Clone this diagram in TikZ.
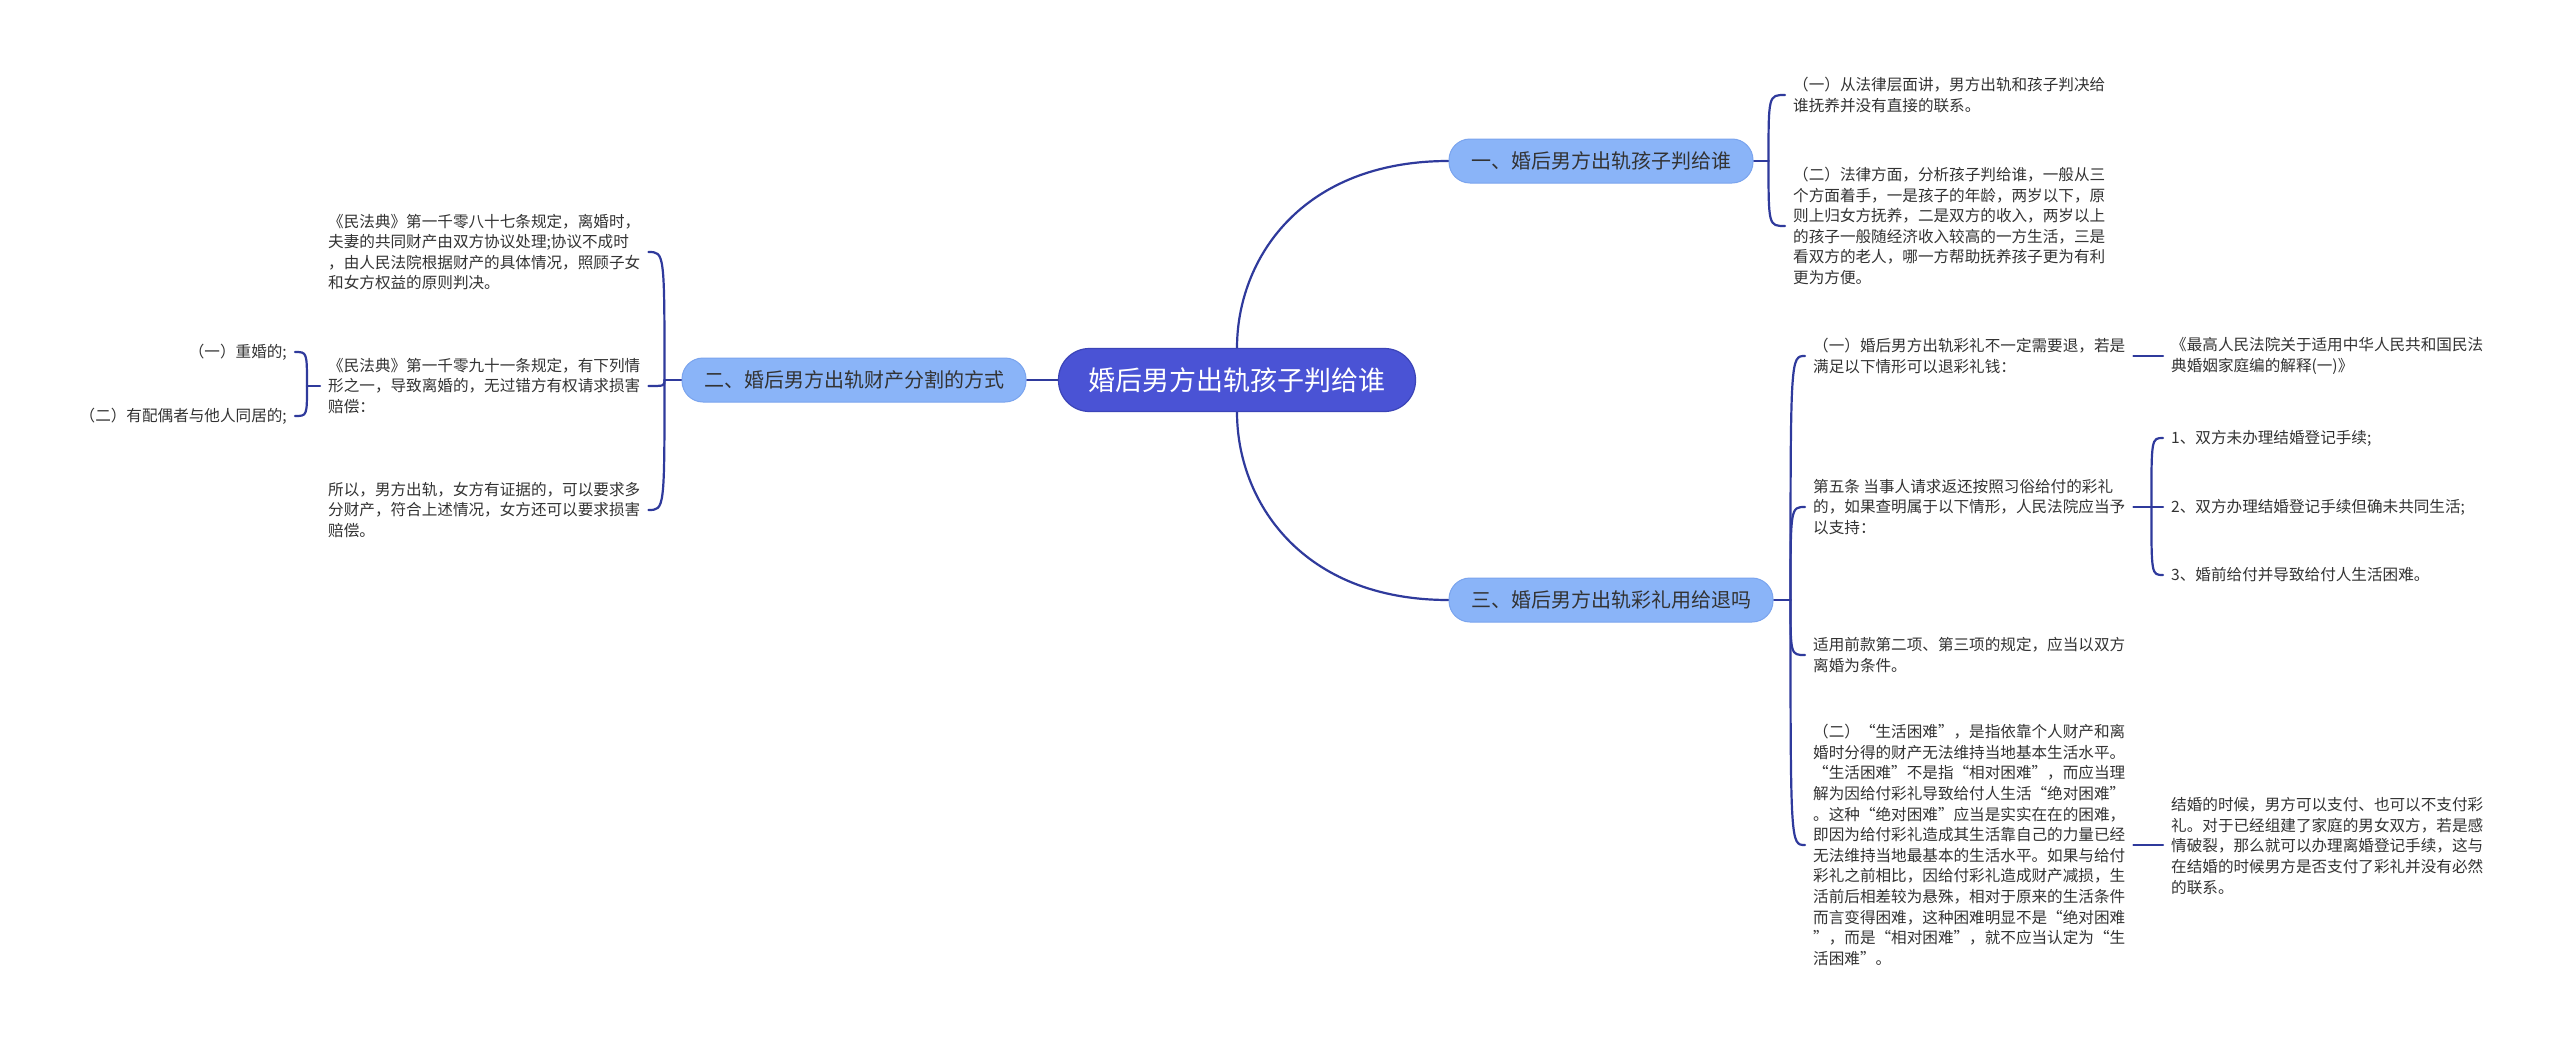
\documentclass[tikz,border=0pt]{standalone}
\usepackage{fontspec}
\setmainfont{Noto Sans CJK SC}
\newfontfamily\cjk{Noto Sans CJK SC}
\pgfdeclarelayer{bg}
\pgfdeclarelayer{paper}
\pgfsetlayers{paper,bg,main}
\definecolor{rootfill}{HTML}{4A53D5}
\definecolor{rootdraw}{HTML}{3B44B8}
\definecolor{brfill}{HTML}{8AB4F8}
\definecolor{brdraw}{HTML}{7AA4EE}
\definecolor{linec}{HTML}{2F3A9C}
\definecolor{txtc}{HTML}{333333}
\tikzset{
  rootnode/.style={rectangle, rounded corners=31pt, fill=rootfill, draw=rootdraw, line width=1.2pt,
    text=white, font=\cjk\fontsize{27}{32}\selectfont, minimum height=63pt, inner xsep=30pt, inner ysep=0pt},
  brnode/.style={rectangle, rounded corners=21pt, fill=brfill, draw=brdraw, line width=1pt,
    text=txtc, font=\cjk\fontsize{20}{24}\selectfont, minimum height=44pt, inner xsep=22pt, inner ysep=0pt},
  txt/.style={align=left, text=txtc, font=\cjk\fontsize{15.6}{20.6}\selectfont, inner xsep=8pt, inner ysep=2pt},
  txtr/.style={txt, align=right},
  conn/.style={draw=linec, line width=2.2pt, line cap=round}
}
\begin{document}
\begin{tikzpicture}[x=1pt,y=-1pt]
\begin{pgfonlayer}{paper}
\fill[white] (0,0) rectangle (2560,1041);
\end{pgfonlayer}
\useasboundingbox (0,0) rectangle (2560,1041);

% main nodes
\node[rootnode] (root) at (1237,380) {婚后男方出轨孩子判给谁};
\node[brnode] (b1) at (1601,161) {一、婚后男方出轨孩子判给谁};
\node[brnode] (b2) at (854,380) {二、婚后男方出轨财产分割的方式};
\node[brnode] (b3) at (1611,600) {三、婚后男方出轨彩礼用给退吗};

% branch 1 children
\node[txt, anchor=west] (c1a) at (1785,95) {（一）从法律层面讲，男方出轨和孩子判决给\\谁抚养并没有直接的联系。};
\node[txt, anchor=west] (c1b) at (1785,226) {（二）法律方面，分析孩子判给谁，一般从三\\个方面着手，一是孩子的年龄，两岁以下，原\\则上归女方抚养，二是双方的收入，两岁以上\\的孩子一般随经济收入较高的一方生活，三是\\看双方的老人，哪一方帮助抚养孩子更为有利\\更为方便。};

% branch 2 children
\node[txt, anchor=west] (c2a) at (320,252) {《民法典》第一千零八十七条规定，离婚时，\\夫妻的共同财产由双方协议处理;协议不成时\\，由人民法院根据财产的具体情况，照顾子女\\和女方权益的原则判决。};
\node[txt, anchor=west] (c2b) at (320,386) {《民法典》第一千零九十一条规定，有下列情\\形之一，导致离婚的，无过错方有权请求损害\\赔偿：};
\node[txt, anchor=west] (c2c) at (320,510) {所以，男方出轨，女方有证据的，可以要求多\\分财产，符合上述情况，女方还可以要求损害\\赔偿。};
\node[txtr, anchor=east] (g21) at (295,352) {（一）重婚的;};
\node[txtr, anchor=east] (g22) at (295,416) {（二）有配偶者与他人同居的;};

% branch 3 children
\node[txt, anchor=west] (c3a) at (1805,356) {（一）婚后男方出轨彩礼不一定需要退，若是\\满足以下情形可以退彩礼钱：};
\node[txt, anchor=west] (c3b) at (1805,507) {第五条 当事人请求返还按照习俗给付的彩礼\\的，如果查明属于以下情形，人民法院应当予\\以支持：};
\node[txt, anchor=west] (c3c) at (1805,655) {适用前款第二项、第三项的规定，应当以双方\\离婚为条件。};
\node[txt, anchor=west] (c3d) at (1805,845) {（二）“生活困难”，是指依靠个人财产和离\\婚时分得的财产无法维持当地基本生活水平。\\“生活困难”不是指“相对困难”，而应当理\\解为因给付彩礼导致给付人生活“绝对困难”\\。这种“绝对困难”应当是实实在在的困难，\\即因为给付彩礼造成其生活靠自己的力量已经\\无法维持当地最基本的生活水平。如果与给付\\彩礼之前相比，因给付彩礼造成财产减损，生\\活前后相差较为悬殊，相对于原来的生活条件\\而言变得困难，这种困难明显不是“绝对困难\\”，而是“相对困难”，就不应当认定为“生\\活困难”。};

\node[txt, anchor=west] (g3a) at (2163,356) {《最高人民法院关于适用中华人民共和国民法\\典婚姻家庭编的解释(一)》};
\node[txt, anchor=west] (g3b1) at (2163,438) {1、双方未办理结婚登记手续;};
\node[txt, anchor=west] (g3b2) at (2163,507) {2、双方办理结婚登记手续但确未共同生活;};
\node[txt, anchor=west] (g3b3) at (2163,575) {3、婚前给付并导致给付人生活困难。};
\node[txt, anchor=west] (g3d) at (2163,846) {结婚的时候，男方可以支付、也可以不支付彩\\礼。对于已经组建了家庭的男女双方，若是感\\情破裂，那么就可以办理离婚登记手续，这与\\在结婚的时候男方是否支付了彩礼并没有必然\\的联系。};

% junctions
\path (b1.east) ++(15,0) coordinate (j1);
\path (b2.west) ++(-17,0) coordinate (j2);
\path (b3.east) ++(17,0) coordinate (j3);
\path (c2b.west) ++(-13,0) coordinate (jg2);
\path (c3b.east) ++(18,0) coordinate (jb);

\begin{pgfonlayer}{bg}
\draw[conn] (root.west) -- (b2.east);
\draw[conn] (root.north) .. controls +(0,-89) and +(-147,0) .. (b1.west);
\draw[conn] (root.south) .. controls +(0,89) and +(-147,0) .. (b3.west);

\draw[conn] (b1.east) -- (j1);
\draw[conn] (j1) .. controls (j1 |- c1a.west) .. (c1a.west);
\draw[conn] (j1) .. controls (j1 |- c1b.west) .. (c1b.west);

\draw[conn] (b2.west) -- (j2);
\draw[conn] (j2) .. controls (j2 |- c2a.east) .. (c2a.east);
\draw[conn] (j2) .. controls (j2 |- c2b.east) .. (c2b.east);
\draw[conn] (j2) .. controls (j2 |- c2c.east) .. (c2c.east);

\draw[conn] (c2b.west) -- (jg2);
\draw[conn] (jg2) .. controls (jg2 |- g21.east) .. (g21.east);
\draw[conn] (jg2) .. controls (jg2 |- g22.east) .. (g22.east);

\draw[conn] (b3.east) -- (j3);
\draw[conn] (j3) .. controls (j3 |- c3a.west) .. (c3a.west);
\draw[conn] (j3) .. controls (j3 |- c3b.west) .. (c3b.west);
\draw[conn] (j3) .. controls (j3 |- c3c.west) .. (c3c.west);
\draw[conn] (j3) .. controls (j3 |- c3d.west) .. (c3d.west);

\draw[conn] (c3a.east) -- (c3a.east -| g3a.west);
\draw[conn] (c3b.east) -- (jb);
\draw[conn] (jb) .. controls (jb |- g3b1.west) .. (g3b1.west);
\draw[conn] (jb) .. controls (jb |- g3b2.west) .. (g3b2.west);
\draw[conn] (jb) .. controls (jb |- g3b3.west) .. (g3b3.west);
\draw[conn] (c3d.east) -- (c3d.east -| g3d.west);
\end{pgfonlayer}
\end{tikzpicture}
\end{document}
